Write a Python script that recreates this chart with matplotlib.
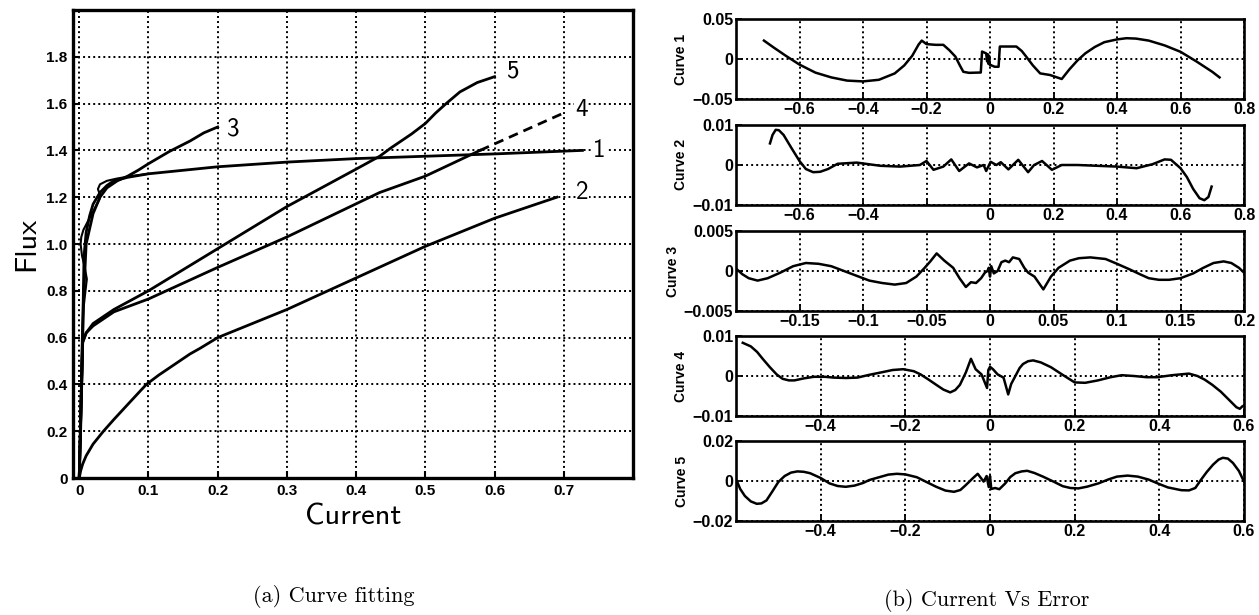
import matplotlib
matplotlib.use("Agg")
import matplotlib.pyplot as plt
from matplotlib import font_manager as fm

# ---------------- data: flux vs current ----------------
c1_x = [0, 0.002, 0.004, 0.005, 0.006, 0.007, 0.010, 0.015, 0.020, 0.030, 0.040, 0.050,
        0.070, 0.100, 0.150, 0.200, 0.300, 0.400, 0.500, 0.600, 0.727]
c1_y = [0, 0.20, 0.45, 0.60, 0.80, 0.95, 1.05, 1.12, 1.17, 1.22, 1.25, 1.27,
        1.285, 1.300, 1.315, 1.330, 1.350, 1.365, 1.375, 1.385, 1.400]

fit1_x = [0, 0.002, 0.004, 0.006, 0.009, 0.011, 0.008, 0.004, 0.002, 0.003, 0.006,
          0.013, 0.022, 0.029, 0.030, 0.027, 0.030, 0.040, 0.055, 0.075, 0.100]
fit1_y = [0, 0.30, 0.60, 0.72, 0.80, 0.85, 0.90, 0.95, 1.00, 1.03, 1.06,
          1.10, 1.15, 1.19, 1.21, 1.235, 1.255, 1.27, 1.28, 1.29, 1.30]

c2_x = [0, 0.002, 0.005, 0.010, 0.020, 0.035, 0.050, 0.075, 0.097, 0.115, 0.130, 0.145,
        0.160, 0.175, 0.200, 0.250, 0.300, 0.400, 0.500, 0.600, 0.690]
c2_y = [0, 0.03, 0.06, 0.095, 0.145, 0.20, 0.25, 0.33, 0.40, 0.44, 0.47, 0.50,
        0.53, 0.555, 0.60, 0.66, 0.72, 0.855, 0.99, 1.11, 1.20]

c3_x = [0, 0.004, 0.006, 0.010, 0.020, 0.030, 0.040, 0.055, 0.070, 0.085, 0.100, 0.130,
        0.160, 0.180, 0.200]
c3_y = [0, 0.50, 0.75, 1.00, 1.13, 1.20, 1.24, 1.27, 1.29, 1.315, 1.343, 1.395,
        1.44, 1.475, 1.50]

c4_x = [0, 0.003, 0.005, 0.010, 0.020, 0.030, 0.050, 0.100, 0.200, 0.300, 0.434, 0.500, 0.579]
c4_y = [0, 0.35, 0.58, 0.62, 0.65, 0.67, 0.71, 0.765, 0.90, 1.03, 1.22, 1.29, 1.40]
c4_ext_x = [0.579, 0.700]
c4_ext_y = [1.40, 1.56]

c5_x = [0, 0.003, 0.005, 0.010, 0.020, 0.030, 0.050, 0.100, 0.200, 0.300, 0.400, 0.434,
        0.450, 0.480, 0.500, 0.515, 0.530, 0.550, 0.575, 0.600]
c5_y = [0, 0.35, 0.58, 0.62, 0.66, 0.68, 0.72, 0.80, 0.98, 1.16, 1.32, 1.375,
        1.41, 1.47, 1.515, 1.56, 1.60, 1.65, 1.69, 1.715]

curve_tags = ["1", "2", "3", "4", "5"]
tag_x = [0.742, 0.718, 0.214, 0.716, 0.617]
tag_y = [1.400, 1.220, 1.490, 1.575, 1.740]

left_xticks = [0, 0.1, 0.2, 0.3, 0.4, 0.5, 0.6, 0.7]
left_yticks = [0, 0.2, 0.4, 0.6, 0.8, 1.0, 1.2, 1.4, 1.6, 1.8]

# ---------------- data: current vs error ----------------
e1_x = [-0.712, -0.68, -0.643, -0.6, -0.55, -0.5, -0.45, -0.4, -0.35, -0.3,
        -0.27, -0.245, -0.225, -0.215, -0.2, -0.171, -0.147, -0.128, -0.109, -0.095,
        -0.084, -0.066, -0.029, -0.025, -0.012, -0.009, -0.007, -0.005, -0.003, 0.0,
        0.002, 0.015, 0.027, 0.031, 0.046, 0.083, 0.1, 0.114, 0.135, 0.158,
        0.189, 0.226, 0.25, 0.275, 0.3, 0.33, 0.36, 0.4, 0.43, 0.46,
        0.5, 0.55, 0.6, 0.65, 0.7, 0.723]
e1_y = [0.023, 0.014, 0.004, -0.007, -0.017, -0.023, -0.027, -0.028, -0.026, -0.018,
        -0.008, 0.004, 0.018, 0.023, 0.0186, 0.0177, 0.0177, 0.011, 0.003, -0.008,
        -0.016, -0.0173, -0.0169, 0.0093, 0.007, -0.003, 0.006, -0.006, 0.004, -0.008,
        -0.0076, -0.0097, -0.0097, 0.0156, 0.0156, 0.0156, 0.010, 0.003, -0.008, -0.018,
        -0.020, -0.025, -0.013, -0.002, 0.007, 0.015, 0.021, 0.0245, 0.026, 0.0255,
        0.023, 0.017, 0.009, -0.003, -0.016, -0.023]

e2_x = [-0.693, -0.685, -0.675, -0.665, -0.65, -0.625, -0.6, -0.58, -0.557, -0.535,
        -0.51, -0.48, -0.42, -0.345, -0.283, -0.221, -0.2, -0.178, -0.147, -0.122,
        -0.097, -0.066, -0.041, -0.02, -0.012, 0.002, 0.02, 0.034, 0.058, 0.089,
        0.12, 0.139, 0.164, 0.195, 0.226, 0.276, 0.4, 0.462, 0.512, 0.55,
        0.57, 0.6, 0.62, 0.64, 0.66, 0.675, 0.688, 0.698]
e2_y = [0.0054, 0.0075, 0.0088, 0.0087, 0.0075, 0.0042, 0.001, -0.001, -0.0018, -0.0017,
        -0.001, 0.0003, 0.0006, -0.0002, -0.0004, 0.0, 0.001, -0.0012, -0.0004, 0.0014,
        -0.0015, 0.0004, -0.0006, 0.0, -0.0015, 0.0008, 0.0, 0.0007, -0.0011, 0.0013,
        -0.0018, 0.0, 0.001, -0.0012, 0.0, 0.0, -0.0004, -0.0008, 0.0002, 0.0014,
        0.0013, -0.0008, -0.003, -0.006, -0.0083, -0.0088, -0.008, -0.0054]

e3_x = [-0.2, -0.195, -0.19, -0.183, -0.175, -0.165, -0.155, -0.145, -0.135, -0.125,
        -0.115, -0.105, -0.095, -0.085, -0.075, -0.066, -0.058, -0.052, -0.047, -0.042,
        -0.036, -0.029, -0.024, -0.019, -0.015, -0.011, -0.007, -0.004, -0.002, -0.001,
        0.0, 0.001, 0.003, 0.006, 0.009, 0.012, 0.015, 0.018, 0.023, 0.027,
        0.03, 0.035, 0.042, 0.048, 0.054, 0.063, 0.07, 0.079, 0.091, 0.1,
        0.11, 0.118, 0.125, 0.133, 0.141, 0.15, 0.16, 0.168, 0.176, 0.184,
        0.19, 0.196, 0.2]
e3_y = [0.0003, -0.0004, -0.0009, -0.0012, -0.0009, -0.0002, 0.0006, 0.001, 0.0009, 0.0006,
        0.0, -0.0006, -0.0012, -0.0015, -0.0017, -0.0015, -0.0007, 0.0003, 0.0012, 0.0022,
        0.0013, 0.0004, -0.0009, -0.002, -0.0014, -0.0015, -0.0009, -0.0002, 0.0, 0.0004,
        -0.0007, 0.0006, -0.0003, 0.0, 0.0011, 0.0013, 0.0011, 0.0017, 0.0015, 0.0004,
        -0.0002, -0.0007, -0.0023, -0.0007, 0.0004, 0.0013, 0.0016, 0.0017, 0.0015, 0.0009,
        0.0002, -0.0004, -0.0009, -0.0011, -0.0011, -0.0009, -0.0003, 0.0004, 0.001, 0.0012,
        0.001, 0.0004, -0.0002]

e4_x = [-0.584, -0.565, -0.55, -0.537, -0.52, -0.504, -0.49, -0.475, -0.462, -0.44,
        -0.416, -0.39, -0.369, -0.34, -0.313, -0.285, -0.257, -0.23, -0.205, -0.18,
        -0.164, -0.145, -0.127, -0.11, -0.094, -0.082, -0.071, -0.057, -0.045, -0.034,
        -0.02, -0.007, -0.004, 0.0, 0.007, 0.018, 0.032, 0.043, 0.05, 0.06,
        0.07, 0.078, 0.09, 0.102, 0.12, 0.144, 0.17, 0.2, 0.225, 0.255,
        0.285, 0.311, 0.34, 0.37, 0.395, 0.43, 0.47, 0.49, 0.507, 0.525,
        0.545, 0.565, 0.582, 0.59, 0.596]
e4_y = [0.0083, 0.0074, 0.006, 0.0043, 0.0022, 0.0004, -0.0007, -0.0011, -0.0011, -0.0006,
        -0.0002, -0.0002, -0.0004, -0.0005, -0.0004, 0.0003, 0.0009, 0.0015, 0.0017, 0.0012,
        0.0004, -0.0009, -0.0022, -0.0034, -0.0041, -0.0035, -0.0022, 0.0009, 0.0043, 0.0017,
        0.0004, -0.003, 0.0015, 0.0023, 0.0017, 0.0004, -0.0004, -0.0046, -0.002, 0.0,
        0.002, 0.003, 0.0037, 0.0039, 0.0034, 0.0022, 0.0004, -0.0016, -0.0017, -0.0011,
        -0.0003, 0.0002, 0.0, -0.0003, -0.0003, 0.0002, 0.0006, 0.0, -0.0009, -0.0022,
        -0.0039, -0.006, -0.0078, -0.0082, -0.0076]

e5_x = [-0.598, -0.59, -0.579, -0.565, -0.551, -0.54, -0.528, -0.515, -0.5, -0.485,
        -0.47, -0.455, -0.44, -0.425, -0.4, -0.379, -0.36, -0.341, -0.32, -0.3,
        -0.285, -0.26, -0.24, -0.22, -0.2, -0.173, -0.15, -0.127, -0.105, -0.085,
        -0.07, -0.057, -0.04, -0.029, -0.015, -0.008, -0.003, 0.0, 0.003, 0.012,
        0.022, 0.036, 0.048, 0.06, 0.075, 0.088, 0.105, 0.125, 0.15, 0.172,
        0.19, 0.209, 0.23, 0.256, 0.28, 0.3, 0.325, 0.349, 0.375, 0.396,
        0.42, 0.452, 0.47, 0.485, 0.498, 0.512, 0.527, 0.54, 0.55, 0.562,
        0.574, 0.588, 0.6]
e5_y = [0.0, -0.004, -0.0075, -0.0102, -0.0114, -0.0112, -0.0097, -0.0055, -0.0005, 0.0025,
        0.0042, 0.0048, 0.0046, 0.0039, 0.0015, -0.0012, -0.0025, -0.0029, -0.0023, -0.001,
        0.0005, 0.002, 0.0032, 0.0036, 0.0033, 0.0019, -0.0005, -0.0029, -0.0048, -0.0054,
        -0.0045, -0.002, 0.0015, 0.0036, -0.0003, 0.0025, -0.003, 0.0025, -0.004, -0.0035,
        -0.0041, -0.0012, 0.002, 0.0039, 0.0048, 0.0051, 0.004, 0.0022, -0.0003, -0.0026,
        -0.0035, -0.0037, -0.0028, -0.0012, 0.0008, 0.0022, 0.0027, 0.0022, 0.0007, -0.0012,
        -0.0032, -0.0046, -0.0047, -0.0035, 0.0005, 0.0045, 0.0082, 0.0107, 0.0116, 0.0112,
        0.009, 0.005, -0.0003]

err_x = [e1_x, e2_x, e3_x, e4_x, e5_x]
err_y = [e1_y, e2_y, e3_y, e4_y, e5_y]
err_names = ["Curve 1", "Curve 2", "Curve 3", "Curve 4", "Curve 5"]
err_xlim = [(-0.8, 0.8), (-0.8, 0.8), (-0.2, 0.2), (-0.6, 0.6), (-0.6, 0.6)]
err_ylim = [0.05, 0.01, 0.005, 0.01, 0.02]
err_xticks = [
    [-0.6, -0.4, -0.2, 0, 0.2, 0.4, 0.6, 0.8],
    [-0.6, -0.4, -0.2, 0, 0.2, 0.4, 0.6, 0.8],
    [-0.15, -0.1, -0.05, 0, 0.05, 0.1, 0.15, 0.2],
    [-0.4, -0.2, 0, 0.2, 0.4, 0.6],
    [-0.4, -0.2, 0, 0.2, 0.4, 0.6],
]
err_xticklabels = [
    ["-0.6", "-0.4", "-0.2", "0", "0.2", "0.4", "0.6", "0.8"],
    ["-0.6", "-0.4", "", "0", "0.2", "0.4", "0.6", "0.8"],
    ["-0.15", "-0.1", "-0.05", "0", "0.05", "0.1", "0.15", "0.2"],
    ["-0.4", "-0.2", "0", "0.2", "0.4", "0.6"],
    ["-0.4", "-0.2", "0", "0.2", "0.4", "0.6"],
]
err_yticklabels = [
    ["-0.05", "0", "0.05"],
    ["-0.01", "0", "0.01"],
    ["-0.005", "0", "0.005"],
    ["-0.01", "0", "0.01"],
    ["-0.02", "0", "0.02"],
]

# ---------------- styling ----------------
names = {f.name for f in fm.fontManager.ttflist}
narrow = "Liberation Sans Narrow" if "Liberation Sans Narrow" in names else "Liberation Sans"
DOT = (0, (1.0, 1.6))

W, H = 1259, 615
fig = plt.figure(figsize=(W / 100, H / 100), dpi=100)


def box(l, t, r, b):
    return [l / W, 1 - b / H, (r - l) / W, (b - t) / H]


def minus(s):
    return s.replace("-", "\u2212")


# ---------------- left panel ----------------
ax = fig.add_axes(box(73, 10, 633, 478))
ax.set_xlim(-0.009, 0.8)
ax.set_ylim(0, 2.0)
lw = 2.0
ax.plot(c2_x, c2_y, color="black", lw=lw)
ax.plot(c4_x, c4_y, color="black", lw=lw)
ax.plot(c4_ext_x, c4_ext_y, color="black", lw=lw, linestyle=(0, (3.5, 2.2)))
ax.plot(c5_x, c5_y, color="black", lw=lw)
ax.plot(c3_x, c3_y, color="black", lw=lw)
ax.plot(c1_x, c1_y, color="black", lw=lw)
ax.plot(fit1_x, fit1_y, color="black", lw=1.5)
for t, x, y in zip(curve_tags, tag_x, tag_y):
    ax.text(x, y, t, family="cmss10", fontsize=18, ha="left", va="center",
            bbox=dict(facecolor="white", edgecolor="none", pad=0.3))

ax.set_xticks(left_xticks)
ax.set_yticks(left_yticks)
ax.set_xticklabels(["0" if v == 0 else f"{v:.1f}" for v in left_xticks],
                   family="Liberation Sans", fontweight="bold", fontsize=11)
ax.set_yticklabels(["0" if v == 0 else f"{v:.1f}" for v in left_yticks],
                   family="Liberation Sans", fontweight="bold", fontsize=11)
ax.tick_params(direction="in", length=5, width=1.5, pad=4)
ax.grid(True, color="black", linestyle=DOT, linewidth=1.4)
ax.set_axisbelow(True)
for s in ax.spines.values():
    s.set_linewidth(2.4)
ax.set_xlabel("Current", family="cmss10", fontsize=22, labelpad=4)
ax.set_ylabel("Flux", family="cmss10", fontsize=22, labelpad=4)

fig.text(334 / W, 1 - 597 / H, "(a) Curve fitting", family="cmr10", fontsize=16,
         ha="center", va="center")

# ---------------- right panels ----------------
tops = [19, 125, 231, 336, 441]
ph = 80
for i in range(5):
    a = fig.add_axes(box(736, tops[i], 1244, tops[i] + ph))
    a.plot(err_x[i], err_y[i], color="black", lw=1.8)
    a.set_xlim(*err_xlim[i])
    m = err_ylim[i]
    a.set_ylim(-m, m)
    a.set_xticks(err_xticks[i])
    a.set_xticklabels([minus(s) for s in err_xticklabels[i]], family=narrow,
                      fontweight="bold", fontsize=11.5)
    a.set_yticks([-m, 0, m])
    a.set_yticklabels([minus(s) for s in err_yticklabels[i]], family=narrow,
                      fontweight="bold", fontsize=11.5)
    a.tick_params(direction="in", length=4, width=1.3, pad=2)
    a.grid(True, color="black", linestyle=DOT, linewidth=1.4)
    a.set_axisbelow(True)
    for s in a.spines.values():
        s.set_linewidth(1.9)
    a.set_ylabel(err_names[i], family="Liberation Sans", fontweight="bold",
                 fontsize=10, labelpad=3)

fig.text(987 / W, 1 - 600 / H, "(b) Current Vs Error", family="cmr10", fontsize=16,
         ha="center", va="center")

fig.savefig("out.png", dpi=100, facecolor="white")
